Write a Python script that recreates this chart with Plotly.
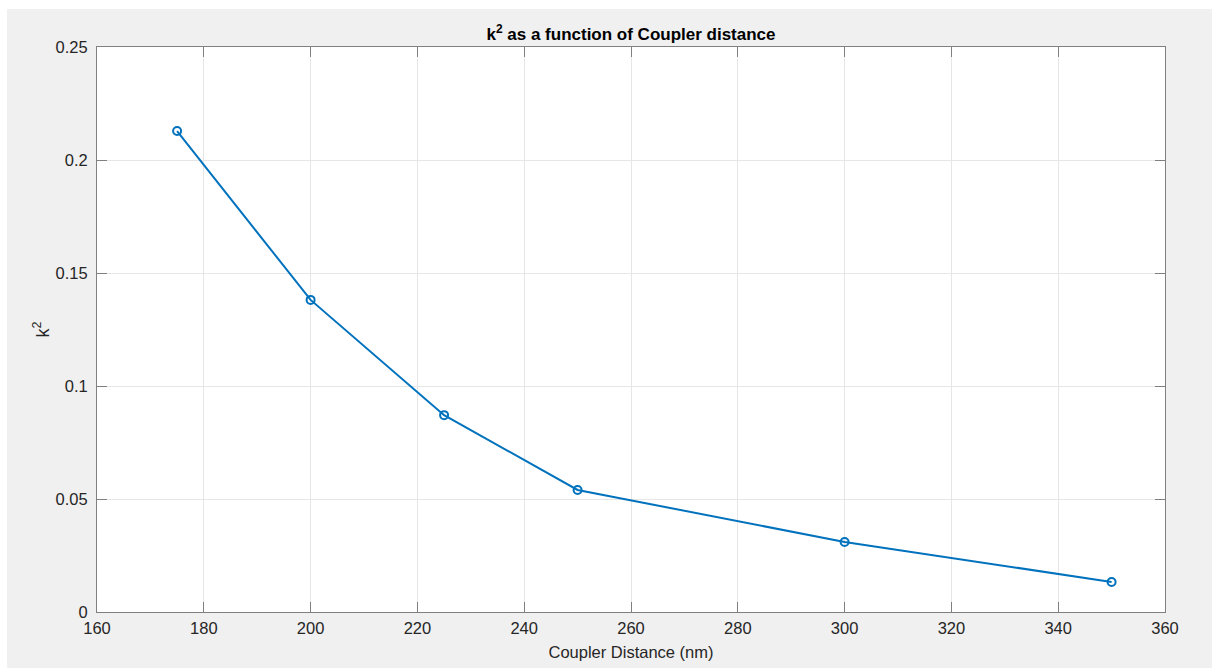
import plotly.graph_objects as go

# Coupler gap (nm) and measured power coupling coefficient k^2
coupler_distance = [175, 200, 225, 250, 300, 350]
k_squared = [0.2128, 0.1381, 0.0871, 0.0540, 0.0310, 0.0133]

x_ticks = [160, 180, 200, 220, 240, 260, 280, 300, 320, 340, 360]
y_ticks = [0, 0.05, 0.1, 0.15, 0.2, 0.25]
y_tick_labels = ["0", "0.05", "0.1", "0.15", "0.2", "0.25"]

W, H = 1212, 668
ML, MR, MT, MB = 97, 47, 47, 56
PW, PH = W - ML - MR, H - MT - MB

LINE = "#0072BD"
AX = "#808080"
TXT = "#262626"
FONT = "Liberation Sans, Arial, Helvetica, sans-serif"

fig = go.Figure()
fig.add_trace(go.Scatter(
    x=coupler_distance, y=k_squared,
    mode="lines+markers",
    line=dict(color=LINE, width=2),
    marker=dict(symbol="circle-open", size=8, color=LINE, line=dict(width=2, color=LINE)),
    showlegend=False,
))

axis_common = dict(
    showline=True, linecolor=AX, linewidth=1, mirror="ticks",
    ticks="inside", ticklen=10, tickwidth=1, tickcolor=AX,
    showgrid=True, gridcolor="#e6e6e6", gridwidth=1,
    zeroline=False, automargin=False,
    tickfont=dict(family=FONT, size=16.5, color=TXT),
)

fig.update_xaxes(
    range=[160, 360], tickvals=x_ticks, ticktext=[str(v) for v in x_ticks],
    title=dict(text="Coupler Distance (nm)", font=dict(family=FONT, size=16.5, color=TXT), standoff=10),
    ticklabelstandoff=1,
    **axis_common,
)
fig.update_yaxes(
    range=[0, 0.25], tickvals=y_ticks, ticktext=y_tick_labels,
    title=dict(text="k<sup>2</sup>", font=dict(family=FONT, size=18, color=TXT), standoff=1),
    ticklabelstandoff=5,
    **axis_common,
)

# outer light strip along the top and left edges of the figure
shapes = [
    dict(type="rect", xref="paper", yref="paper", layer="below",
         x0=-ML / PW, x1=(7 - ML) / PW, y0=-MB / PH, y1=1 + MT / PH,
         fillcolor="white", line=dict(width=0)),
    dict(type="rect", xref="paper", yref="paper", layer="below",
         x0=-ML / PW, x1=1 + MR / PW, y0=1 + (MT - 9) / PH, y1=1 + MT / PH,
         fillcolor="white", line=dict(width=0)),
]

fig.update_layout(
    width=W, height=H,
    margin=dict(l=ML, r=MR, t=MT, b=MB, pad=0, autoexpand=False),
    paper_bgcolor="#f0f0f0",
    plot_bgcolor="white",
    shapes=shapes,
    title=dict(
        text="<b>k<sup>2</sup> as a function of Coupler distance</b>",
        font=dict(family=FONT, size=17, color="black"),
        x=0.5, xref="paper", xanchor="center",
        y=1 - 34 / H, yref="container", yanchor="middle",
    ),
)

fig.write_html("out.html")
